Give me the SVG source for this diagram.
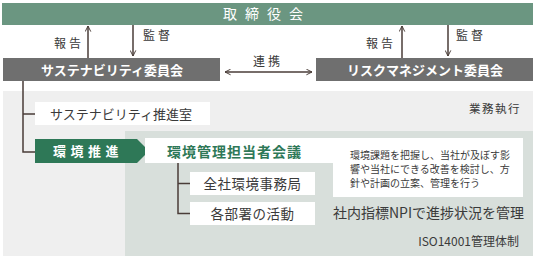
<svg xmlns="http://www.w3.org/2000/svg" width="536" height="258" viewBox="0 0 536 258">
<defs>
<style>
text{font-family:"Noto Sans CJK JP","Noto Sans",sans-serif;}
.w{fill:#ffffff;}
.d{fill:#3a3a3a;}
.ln{stroke:#4a3d38;stroke-width:1.5;fill:none;}
</style>
<marker id="ah" viewBox="0 0 10 10" refX="9" refY="5" markerWidth="7" markerHeight="7" orient="auto-start-reverse" markerUnits="userSpaceOnUse">
<path d="M1,1 L9,5 L1,9" fill="none" stroke="#4a3d38" stroke-width="1.4"/>
</marker>
</defs>
<rect width="536" height="258" fill="#ffffff"/>
<g id="regions">
<rect x="3" y="91" width="530" height="165" fill="#efefef"/>
<rect x="125" y="131" width="408" height="125" fill="#d8dfdb"/>
</g>
<g id="board">
<rect x="2" y="3" width="531" height="22" fill="#6b9681"/>
<text x="267" y="19" text-anchor="middle" font-size="14" letter-spacing="8" class="w">取締役会</text>
</g>
<g id="sus-committee">
<rect x="3" y="58" width="217" height="23" fill="#6f6f6f"/>
<text x="112" y="74.5" text-anchor="middle" font-size="13" font-weight="bold" class="w">サステナビリティ委員会</text>
</g>
<g id="risk-committee">
<rect x="316" y="58" width="217" height="23" fill="#6f6f6f"/>
<text x="425" y="74.5" text-anchor="middle" font-size="13" font-weight="bold" class="w">リスクマネジメント委員会</text>
</g>
<g id="sus-office">
<rect x="35" y="102" width="175" height="23" fill="#ffffff"/>
<text x="50" y="118.5" font-size="13" class="d">サステナビリティ推進室</text>
</g>
<g id="env-promo">
<path d="M35,139 H137 L149,151 L137,163 H35 Z" fill="#2e7857"/>
<text x="53" y="156" font-size="13" font-weight="bold" letter-spacing="4.5" class="w">環境推進</text>
</g>
<g id="env-meeting">
<path d="M145,138 H523 V197 H333 V163 H145 Z" fill="#ffffff"/>
<text x="167" y="157" font-size="14" font-weight="bold" letter-spacing="1" fill="#2e7857">環境管理担当者会議</text>
<text x="350" y="159" font-size="10" class="d">環境課題を把握し、当社が及ぼす影</text>
<text x="350" y="173" font-size="10" class="d">響や当社にできる改善を検討し、方</text>
<text x="350" y="187" font-size="10" class="d">針や計画の立案、管理を行う</text>
</g>
<g id="env-office">
<rect x="190" y="172" width="125" height="23" fill="#ffffff"/>
<text x="252.5" y="188.5" text-anchor="middle" font-size="13.5" letter-spacing="0.5" class="d">全社環境事務局</text>
</g>
<g id="dept-activity">
<rect x="190" y="202" width="125" height="23" fill="#ffffff"/>
<text x="252.5" y="218.5" text-anchor="middle" font-size="13.5" letter-spacing="0.5" class="d">各部署の活動</text>
</g>
<g id="labels">
<text x="333" y="217.5" font-size="14" class="d">社内指標NPIで進捗状況を管理</text>
<text x="521" y="113" text-anchor="end" font-size="11.5" letter-spacing="1.5" class="d">業務執行</text>
<text x="519" y="246" text-anchor="end" font-size="12" class="d">ISO14001管理体制</text>
</g>
<g id="connectors">
<line class="ln" x1="88" y1="58" x2="88" y2="26" marker-end="url(#ah)"/>
<line class="ln" x1="133" y1="25" x2="133" y2="56" marker-end="url(#ah)"/>
<line class="ln" x1="402" y1="58" x2="402" y2="26" marker-end="url(#ah)"/>
<line class="ln" x1="448" y1="25" x2="448" y2="56" marker-end="url(#ah)"/>
<line class="ln" x1="225" y1="72" x2="312" y2="72" marker-start="url(#ah)" marker-end="url(#ah)"/>
<path class="ln" d="M23,81 V152 H35 M23,114 H35"/>
<path class="ln" d="M178,163 V213.5 H190 M178,183.5 H190"/>
<text x="54" y="48" font-size="12" letter-spacing="3" class="d">報告</text>
<text x="143" y="40" font-size="12" letter-spacing="3" class="d">監督</text>
<text x="366" y="48" font-size="12" letter-spacing="3" class="d">報告</text>
<text x="456" y="40" font-size="12" letter-spacing="3" class="d">監督</text>
<text x="253" y="66" font-size="12" letter-spacing="3" class="d">連携</text>
</g>
</svg>
